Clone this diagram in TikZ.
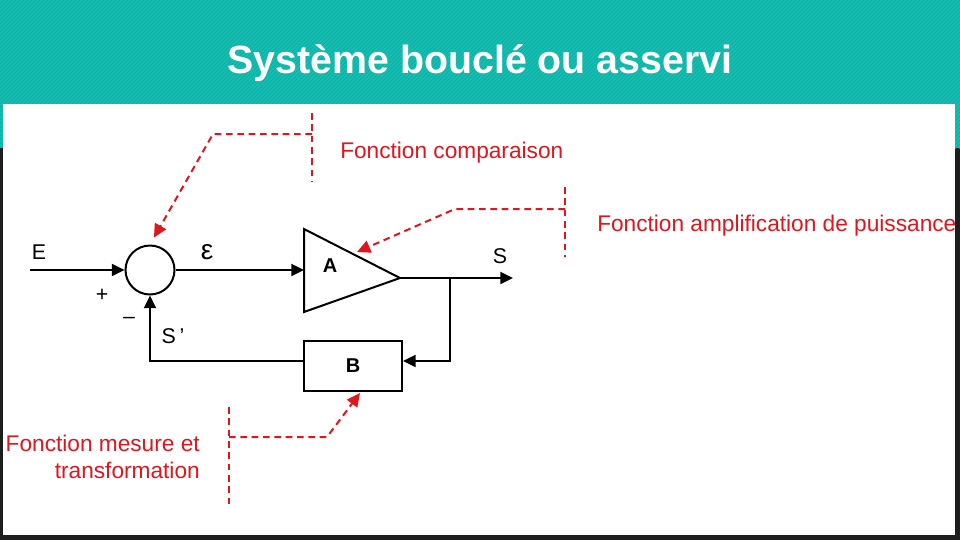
\documentclass[tikz,border=0pt]{standalone}
\usepackage{fontspec}
\setmainfont{Liberation Sans}
\usetikzlibrary{
  positioning,
  arrows.meta,
  patterns
}
\definecolor{band}{HTML}{17BDB2}
\definecolor{stripe}{HTML}{0FA99E}
\definecolor{frame}{HTML}{1E1E1E}
\definecolor{note}{HTML}{E0161E}

\begin{document}
\begin{tikzpicture}[
  x=0.75pt, y=-0.75pt,
  wire/.style={line width=1.5pt, -{Triangle[length=9.5pt,width=9pt]}},
  guide/.style={note, line width=1.5pt, dash pattern=on 5pt off 3.5pt},
  pointer/.style={guide, -{Triangle[length=10pt,width=9.5pt]}},
  sig/.style={font=\fontsize{16}{18}\selectfont, inner sep=0pt},
  blk/.style={font=\bfseries\fontsize{15}{17}\selectfont, inner sep=0pt},
  notetxt/.style={note, font=\fontsize{17}{20.5}\selectfont, inner sep=0pt}
]
  \useasboundingbox (0,0) rectangle (960,540);

  % Slide background
  \fill[frame] (0,0) rectangle (960,540);
  \fill[band] (0,0) rectangle (960,148);
  \fill[pattern=north east lines, pattern color=stripe] (0,0) rectangle (960,148);
  \fill[white] (3,104) rectangle (955,535);
  \node[white, font=\bfseries\fontsize{29.5}{32}\selectfont] (title) at (480,63) {Système bouclé ou asservi};

  % Comparator
  \node[draw, circle, line width=1.5pt, minimum size=36.75pt, inner sep=0pt] (cmp) at (150,270) {};
  \coordinate (ein) at (30,270);
  \node[sig] (E) at (39,252) {E};
  \node[sig] (plus) at (102,295) {+};
  \node[sig] (minus) at (129,320) {--};
  \draw[wire] (ein) -- (cmp.west);

  % Amplifier A
  \coordinate (ain) at (304,270);
  \coordinate (aout) at (400,278);
  \draw[line width=1.5pt, line join=miter] (304,229) -- (aout) -- (304,312) -- cycle;
  \node[blk] (A) at (330,266) {A};
  \node[font=\fontsize{21}{22}\selectfont, inner sep=0pt] (eps) at (207,252) {ε};
  \draw[wire] (cmp.east) -- (ain);

  % Output S
  \coordinate (branch) at (450,278);
  \coordinate (sout) at (513,278);
  \node[sig] (S) at (500,256) {S};
  \draw[wire] (aout) -- (sout);

  % Feedback B
  \node[draw, line width=1.5pt, minimum width=73.5pt, minimum height=37.5pt, blk] (B) at (353,366) {B};
  \node[sig] (Sp) at (173,336) {S\,’};
  \draw[wire] (branch) |- ([yshift=3.75pt]B.east);
  \draw[wire] ([yshift=3.75pt]B.west) -| (cmp.south);

  % Fonction comparaison
  \coordinate (c1a) at (312,113);
  \coordinate (c1b) at (312,182);
  \coordinate (c1m) at (312,134);
  \coordinate (c1k) at (213,134);
  \draw[guide] (c1a) -- (c1b);
  \draw[pointer, shorten >=6pt] (c1m) -- (c1k) -- (cmp.north);
  \node[notetxt, anchor=west] (fc) at (340,153) {Fonction comparaison};

  % Fonction amplification
  \coordinate (c2a) at (565,187);
  \coordinate (c2b) at (565,257);
  \coordinate (c2m) at (565,209);
  \coordinate (c2k) at (455,209);
  \coordinate (c2t) at (357,252);
  \draw[guide] (c2a) -- (c2b);
  \draw[pointer] (c2m) -- (c2k) -- (c2t);
  \node[notetxt, anchor=west] (fa) at (597,226) {Fonction amplification de puissance};

  % Fonction mesure
  \coordinate (c3a) at (229,407);
  \coordinate (c3b) at (229,508);
  \coordinate (c3m) at (229,437);
  \coordinate (c3k) at (327,437);
  \coordinate (c3t) at (360,393);
  \draw[guide] (c3a) -- (c3b);
  \draw[pointer] (c3m) -- (c3k) -- (c3t);
  \node[notetxt, anchor=east, align=right] (fm) at (200,457) {Fonction mesure et\\transformation};
\end{tikzpicture}
\end{document}
